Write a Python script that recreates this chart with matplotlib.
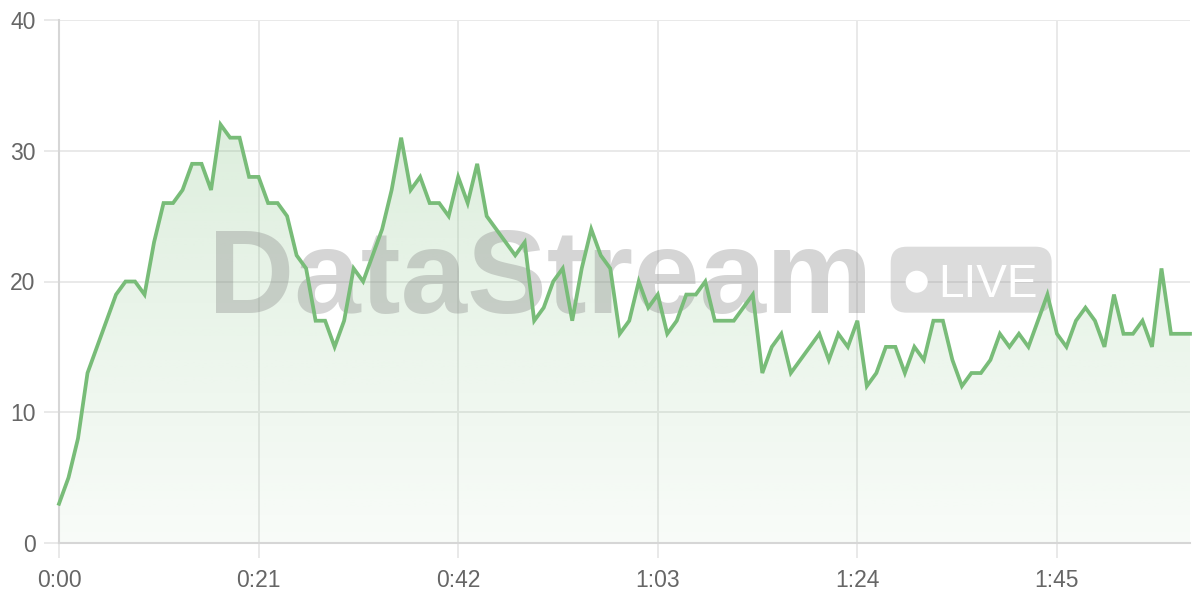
import numpy as np
import matplotlib
matplotlib.use("Agg")
import matplotlib.pyplot as plt
from matplotlib.patches import FancyBboxPatch, Circle

# ---- data ----
seconds = list(range(120))
values = [3, 5, 8, 13, 15, 17, 19, 20, 20, 19,
          23, 26, 26, 27, 29, 29, 27, 32, 31, 31,
          28, 28, 26, 26, 25, 22, 21, 17, 17, 15,
          17, 21, 20, 22, 24, 27, 31, 27, 28, 26,
          26, 25, 28, 26, 29, 25, 24, 23, 22, 23,
          17, 18, 20, 21, 17, 21, 24, 22, 21, 16,
          17, 20, 18, 19, 16, 17, 19, 19, 20, 17,
          17, 17, 18, 19, 13, 15, 16, 13, 14, 15,
          16, 14, 16, 15, 17, 12, 13, 15, 15, 13,
          15, 14, 17, 17, 14, 12, 13, 13, 14, 16,
          15, 16, 15, 17, 19, 16, 15, 17, 18, 17,
          15, 19, 16, 16, 17, 15, 21, 16, 16, 16]
x_ticks = [0, 21, 42, 63, 84, 105]
x_tick_labels = ["0:00", "0:21", "0:42", "1:03", "1:24", "1:45"]
y_ticks = [0, 10, 20, 30, 40]

plt.rcParams['font.family'] = ['Liberation Sans', 'DejaVu Sans']

LINE = '#78bc78'
GRID = '#e9e9e9'
AXIS = '#d6d6d6'

fig = plt.figure(figsize=(12, 6), dpi=100)
ax = fig.add_axes([59 / 1200, 57 / 600, 1131 / 1200, 523 / 600])
ax.set_xlim(0, 119)
ax.set_ylim(0, 40)

# gradient fill under the line
poly = ax.fill_between(seconds, values, 0, facecolor='none', edgecolor='none')
grad = np.zeros((256, 2, 4))
rgb = matplotlib.colors.to_rgb(LINE)
grad[..., 0], grad[..., 1], grad[..., 2] = rgb
alphas = np.linspace(0.05, 0.30, 256)[:, None]
grad[..., 3] = alphas
im = ax.imshow(grad, extent=[0, 119, 0, 40], origin='lower', aspect='auto',
               interpolation='bilinear', zorder=1)
im.set_clip_path(poly.get_paths()[0], transform=ax.transData)

# watermark
ax.text(0.4253, 0.4398, "DataStream", transform=ax.transAxes, ha='center',
        va='baseline', fontsize=86, fontweight='bold', color='#808080',
        alpha=0.33, zorder=2)
pill = FancyBboxPatch((8.907, 2.873), 1.61, 0.66,
                      boxstyle="round,pad=0,rounding_size=0.16",
                      transform=fig.dpi_scale_trans, facecolor='#808080',
                      edgecolor='none', alpha=0.27, zorder=2)
ax.add_patch(pill)
dot = Circle((9.167, 3.183), 0.11, transform=fig.dpi_scale_trans,
             facecolor='white', edgecolor='none', zorder=2.1)
ax.add_patch(dot)
ax.text(9.38, 3.033, "LIVE", transform=fig.dpi_scale_trans, ha='left',
        va='baseline', fontsize=33, color='white', zorder=2.1)

# line
ax.plot(seconds, values, color=LINE, linewidth=2.7, zorder=3,
        solid_joinstyle='miter', clip_on=False)

# axes styling
ax.set_xticks(x_ticks)
ax.set_xticklabels(x_tick_labels)
ax.set_yticks(y_ticks)
ax.grid(True, color=GRID, linewidth=1.4)
ax.set_axisbelow(True)
for s in ['top', 'right']:
    ax.spines[s].set_visible(False)
for s in ['left', 'bottom']:
    ax.spines[s].set_color(AXIS)
    ax.spines[s].set_linewidth(1.5)
ax.tick_params(axis='both', length=11, width=1.4, color=GRID,
               labelcolor='#666666', labelsize=16.5)
ax.tick_params(axis='y', pad=6)
ax.tick_params(axis='x', pad=8)

fig.savefig("out.png", dpi=100)
